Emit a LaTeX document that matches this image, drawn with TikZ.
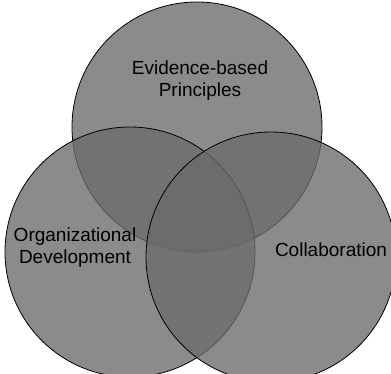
\documentclass[tikz,border=0pt]{standalone}
\usepackage{fontspec}
\setmainfont{Liberation Sans}
\usetikzlibrary{positioning}

\tikzset{
  venn/.style={draw=black, line width=0.8pt, fill=black!58, fill opacity=0.78},
  vlabel/.style={align=center, font=\fontsize{19}{22}\selectfont, text=black, inner sep=0pt}
}

\begin{document}
\begin{tikzpicture}[x=1pt,y=-1pt]
\useasboundingbox (0,0) rectangle (391,374);
\fill[white] (0,0) rectangle (391,374);
\begin{scope}
\clip (0,0) rectangle (391,374);
\foreach \cx/\cy in {197/127, 130/252, 271/257}{
  \draw[venn] (\cx,\cy) circle (125);
}
\end{scope}
\node[vlabel] (evidence) at (200,81) {Evidence-based\\Principles};
\node[vlabel] (orgdev) at (75,248) {Organizational\\Development};
\node[vlabel] (collab) at (331,250) {Collaboration};
\end{tikzpicture}
\end{document}
